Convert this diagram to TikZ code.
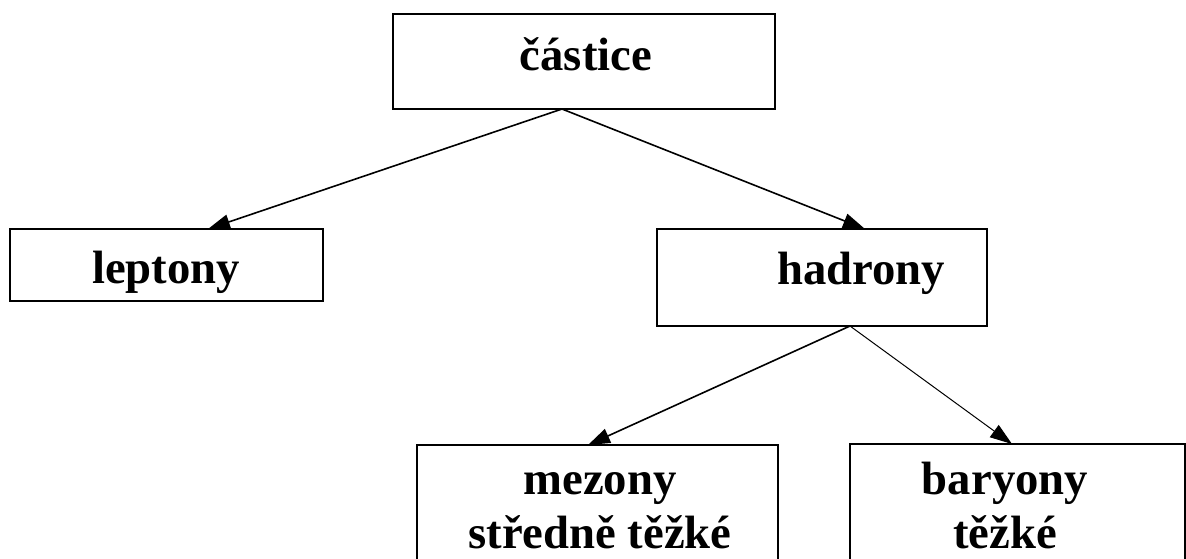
\documentclass[tikz,border=0pt]{standalone}
\usepackage{fontspec}
\setmainfont{Liberation Serif}
\usetikzlibrary{arrows.meta}
\begin{document}
\begin{tikzpicture}[x=1pt,y=-1pt,
  box/.style={draw=black,line width=2pt,inner sep=0pt},
  lbl/.style={anchor=base,inner sep=0pt,font=\fontsize{46.7}{54}\selectfont\bfseries},
  conn/.style={line width=1.6pt,-{Triangle[length=22pt,width=15pt]}},
  connthin/.style={line width=1pt,-{Triangle[length=22pt,width=15pt]}}]
\useasboundingbox (0,0) rectangle (1186,558);
\clip (0,0) rectangle (1186,558);
\fill[white] (0,0) rectangle (1186,558);
% boxes
\node[box,minimum width=382pt,minimum height=95pt] (castice) at (584,61.5) {};
\node[box,minimum width=313pt,minimum height=72pt] (leptony) at (166.5,265) {};
\node[box,minimum width=330pt,minimum height=97pt] (hadrony) at (822,277.5) {};
\node[box,minimum width=361pt,minimum height=140pt] (mezony) at (597.5,515) {};
\node[box,minimum width=335pt,minimum height=140pt] (baryony) at (1017.5,514) {};
% texts
\node[lbl] (tc) at (586,70) {částice};
\node[lbl] (tl) at (166,283) {leptony};
\node[lbl] (th) at (861,284) {hadrony};
\node[lbl] (tm1) at (600,494) {mezony};
\node[lbl] (tm2) at (600,548) {středně těžké};
\node[lbl] (tb1) at (1005,494) {baryony};
\node[lbl] (tb2) at (1005,548) {těžké};
% connector points
\coordinate (cs) at (562,109);
\coordinate (lt) at (208,229);
\coordinate (ht) at (865,229);
\coordinate (hs) at (850,326);
\coordinate (mt) at (588,445);
\coordinate (bt) at (1012,444);
\draw[conn] (cs) -- (lt);
\draw[conn] (cs) -- (ht);
\draw[conn] (hs) -- (mt);
\draw[connthin] (hs) -- (bt);
\end{tikzpicture}
\end{document}
